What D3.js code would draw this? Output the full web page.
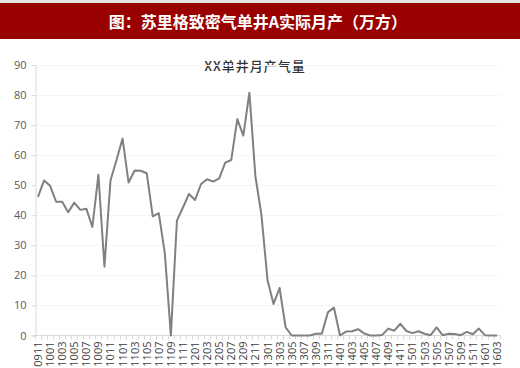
<!DOCTYPE html>
<html><head><meta charset="utf-8">
<script src="https://cdn.jsdelivr.net/npm/d3@7"></script>
<style>
html,body{margin:0;padding:0;background:#fff;}
svg{display:block;}
</style></head>
<body>
<script>
const headerTitle = "图：苏里格致密气单井A实际月产（万方）";
const chartTitle = "XX单井月产气量";
const months = ["0911","0912","1001","1002","1003","1004","1005","1006","1007","1008","1009","1010","1011","1012",
"1101","1102","1103","1104","1105","1106","1107","1108","1109","1110","1111","1112",
"1201","1202","1203","1204","1205","1206","1207","1208","1209","1210","1211","1212",
"1301","1302","1303","1304","1305","1306","1307","1308","1309","1310","1311","1312",
"1401","1402","1403","1404","1405","1406","1407","1408","1409","1410","1411","1412",
"1501","1502","1503","1504","1505","1506","1507","1508","1509","1510","1511","1512",
"1601","1602","1603"];
const values = [46.1,51.6,49.8,44.5,44.5,41.0,44.2,41.8,42.2,36.1,53.5,22.9,51.6,58.4,65.5,50.9,54.9,54.8,54.0,39.6,
40.7,27.3,0,38.2,42.6,47.1,45.1,50.4,52.0,51.2,52.3,57.5,58.4,72.0,66.5,80.8,52.9,40.1,18.5,10.5,
15.8,2.7,0,0,0,0,0.6,0.6,7.7,9.3,0,1.3,1.4,2.1,0.7,0,0,0.2,2.3,1.6,
3.9,1.5,0.8,1.4,0.6,0.1,2.7,0.1,0.6,0.5,0.1,1.2,0.4,2.3,0.1,0,0];
const yTicks = [0,10,20,30,40,50,60,70,80,90];
const xTickLabels = months.filter((d,i)=>i%2===0);

const W=520,H=368;
const svg=d3.select("body").append("svg").attr("width",W).attr("height",H);

// header bar
svg.append("rect").attr("x",0).attr("y",0).attr("width",W).attr("height",3).attr("fill","#e6e6e6");
svg.append("rect").attr("x",0).attr("y",3).attr("width",W).attr("height",36).attr("fill","#990000");
svg.append("text").attr("x",258).attr("y",21).attr("text-anchor","middle").attr("dominant-baseline","central")
  .attr("fill","#fff").attr("font-family","'Noto Sans CJK SC','Noto Sans',sans-serif").attr("font-weight","bold")
  .attr("font-size",16).text(headerTitle);

svg.append("text").attr("x",255).attr("y",65).attr("text-anchor","middle").attr("dominant-baseline","central")
  .attr("fill","#333").attr("font-family","'Noto Sans CJK SC',sans-serif").attr("font-size",13).attr("font-weight",500)
  .attr("letter-spacing","1px").text(chartTitle);

const x=d3.scaleBand().domain(months).range([35,500]);
const y=d3.scaleLinear().domain([0,90]).range([335.5,65]);

// gridlines
svg.append("g").selectAll("line").data(yTicks.slice(1)).join("line")
  .attr("x1",36).attr("x2",500).attr("y1",d=>Math.round(y(d))+0.5).attr("y2",d=>Math.round(y(d))+0.5)
  .attr("stroke","#f6f6f6").attr("stroke-width",1);

// y axis
const yAxis=svg.append("g").attr("transform","translate(35.5,0)")
  .call(d3.axisLeft(y).tickValues(yTicks).tickSize(4).tickPadding(5));
yAxis.select(".domain").attr("stroke","#d9d9d9");
yAxis.selectAll(".tick line").attr("stroke","#d9d9d9");
yAxis.selectAll("text").attr("fill","#595959").attr("font-size",11).attr("font-family","'Open Sans','Liberation Sans',sans-serif");

// x axis
const xg=svg.append("g").attr("transform","translate(0,335.5)");
xg.append("line").attr("x1",35).attr("x2",500).attr("stroke","#d9d9d9");
xg.selectAll("line.tk").data(months.concat(["_end"])).join("line").attr("class","tk")
  .attr("x1",(d,i)=>Math.round(35+i*x.step())+0.5).attr("x2",(d,i)=>Math.round(35+i*x.step())+0.5)
  .attr("y1",0).attr("y2",4).attr("stroke","#d9d9d9");
xg.selectAll("text").data(xTickLabels).join("text")
  .attr("transform",d=>`translate(${x(d)+x.bandwidth()/2+4},6) rotate(-90)`)
  .attr("text-anchor","end").attr("fill","#404040").attr("font-size",11)
  .attr("font-family","'Open Sans','Liberation Sans',sans-serif").text(d=>d);

// line
const line=d3.line().x((d,i)=>x(months[i])+x.bandwidth()/2).y(d=>y(d));
svg.append("path").datum(values).attr("d",line).attr("fill","none").attr("stroke","#808080")
  .attr("stroke-width",2).attr("stroke-linejoin","round");
</script>
</body></html>
